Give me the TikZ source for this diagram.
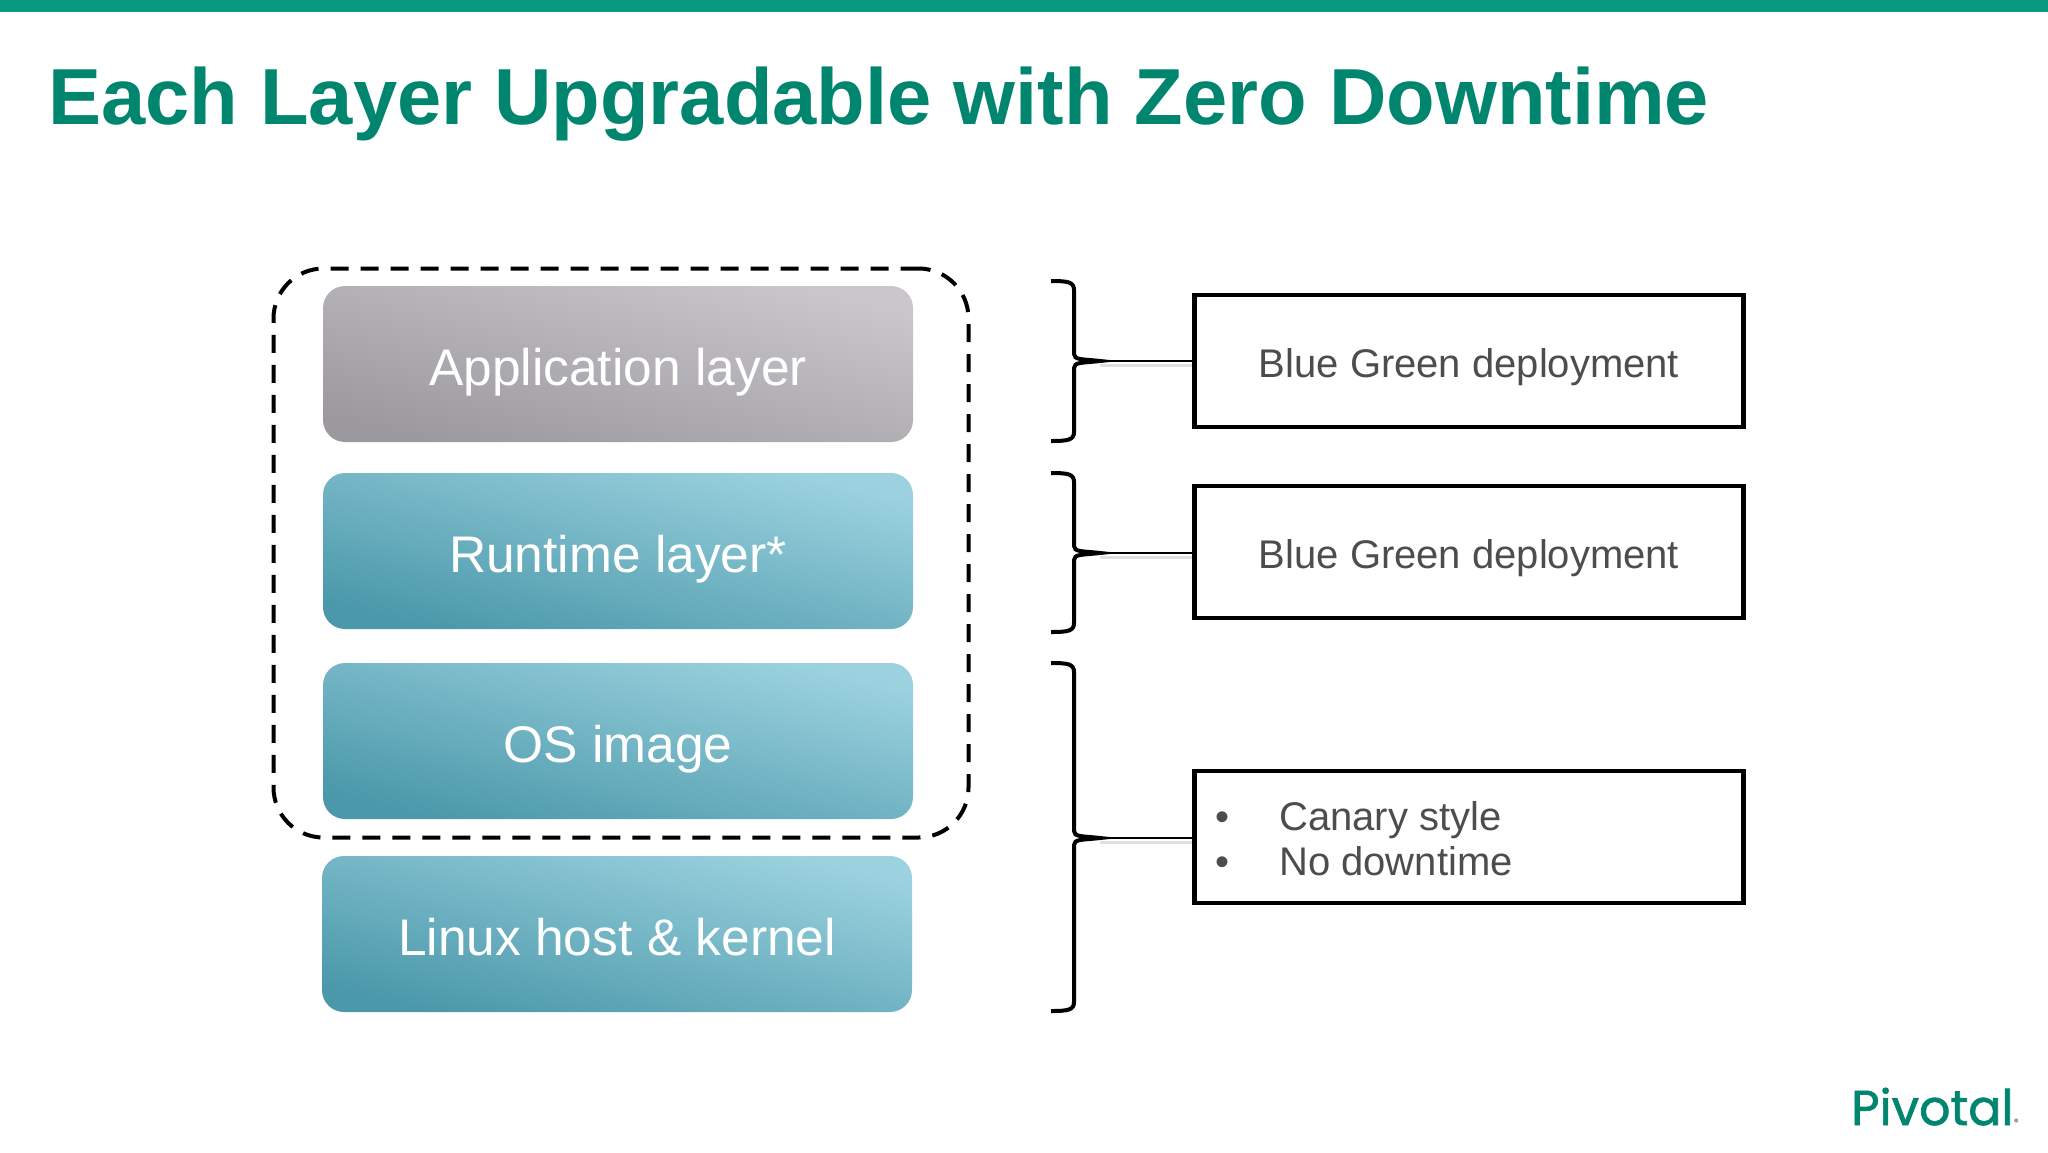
\documentclass[tikz,border=0pt]{standalone}
\usepackage{fontspec}
\setmainfont{Liberation Sans}
\newfontfamily\logofont[FakeBold=1.4]{Poppins}
\definecolor{pivgreen}{HTML}{00856F}
\definecolor{bargreen}{HTML}{0A9A82}
\definecolor{labelgrey}{HTML}{4D4D4F}
\definecolor{greylight}{HTML}{C9C7CB}
\definecolor{greydark}{HTML}{9B999D}
\definecolor{teallight}{HTML}{9CD2DF}
\definecolor{tealdark}{HTML}{4A98AA}
\tikzset{
    layerbox/.style={rounded corners=22pt,minimum width=590pt,minimum height=156pt,inner sep=0pt,
        text=white,text height=46pt,text depth=4pt,font=\fontsize{51.5}{60}\selectfont},
    greylayer/.style={layerbox,top color=greylight,bottom color=greydark,shading angle=-14},
    teallayer/.style={layerbox,top color=teallight,bottom color=tealdark,shading angle=-14},
    deploybox/.style={draw=black,line width=4.5pt,minimum width=549pt,minimum height=132pt,inner sep=0pt,
        text=labelgrey,text height=40pt,text depth=7pt,font=\fontsize{40}{45}\selectfont},
    itemtext/.style={inner sep=0pt,text=labelgrey,font=\fontsize{40}{45}\selectfont},
    bracket/.style={draw=black,line width=4pt},
    tieline/.style={draw=black,line width=2pt},
    tieshade/.style={draw=black!12,line width=3pt},
}
\begin{document}
\begin{tikzpicture}[x=1pt,y=-1pt]
    \useasboundingbox (0,0) rectangle (2048,1152);
    \fill[bargreen] (0,0) rectangle (2048,12);
    \node[anchor=base west,inner sep=0pt,text=pivgreen,font=\fontsize{79.5}{90}\selectfont\bfseries] (title) at (48,124) {Each Layer Upgradable with Zero Downtime};

    \node[greylayer] (app) at (618,364) {Application layer};
    \node[teallayer] (runtime) at (618,551) {Runtime layer*};
    \node[teallayer] (os) at (618,741) {OS image};
    \node[teallayer] (linux) at (617,934) {Linux host \& kernel};

    \node[draw=black,line width=4pt,dash pattern=on 18pt off 12pt,rounded corners=50pt,
        minimum width=695pt,minimum height=569pt] (group) at (621,553) {};

    \node[deploybox] (deploy1) at (1469,361) {Blue Green deployment};
    \node[deploybox] (deploy2) at (1469,552) {Blue Green deployment};
    \node[deploybox] (deploy3) at (1469,837) {};
    \node[itemtext,anchor=base west] (canary) at (1279,830) {Canary style};
    \node[itemtext,anchor=base west] (nodown) at (1279,875) {No downtime};
    \node[itemtext,anchor=base] (dot1) at (1222,830) {•};
    \node[itemtext,anchor=base] (dot2) at (1222,875) {•};

    \foreach \i/\t/\m/\b in {1/281/361/441,2/473/553/632,3/663/838/1011} {
    \coordinate (tip\i) at (1100,\m);
    \draw[bracket] (1051,\t) .. controls (1068,\t) and (1074,\t+1) .. (1074,\t+9) -- (1074,\m-7)
        .. controls (1074,\m-1) and (1082,\m-2) .. (tip\i)
        .. controls (1082,\m+2) and (1074,\m+1) .. (1074,\m+7) -- (1074,\b-9)
        .. controls (1074,\b-1) and (1068,\b) .. (1051,\b);
    \draw[tieshade] ([yshift=-4pt]tip\i) -- ([yshift=-4pt]tip\i -| deploy\i.west);
    \draw[tieline] (tip\i) -- (tip\i -| deploy\i.west);
    }

    \node[anchor=base west,inner sep=0pt,text=pivgreen,font=\fontsize{49}{60}\logofont] (logo) at (1851,1125) {Pivotal};
    \node[anchor=base west,inner sep=0pt,text=black!40,font=\fontsize{9}{10}\logofont] (logomark) at (logo.base east) {®};
\end{tikzpicture}
\end{document}
